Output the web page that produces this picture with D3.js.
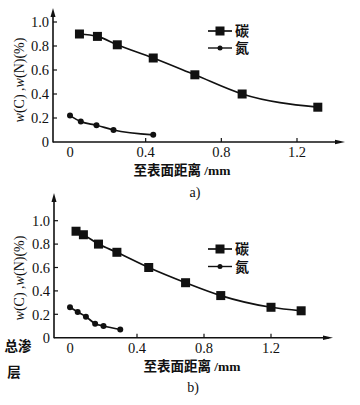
<!DOCTYPE html>
<html><head><meta charset="utf-8">
<script src="https://cdn.jsdelivr.net/npm/d3@7"></script>
<style>body{margin:0;background:#fff}svg{display:block}</style>
</head><body>
<script>
// ---- data ----
const yTicks = [0, 0.2, 0.4, 0.6, 0.8, 1.0];
const yTickLabels = ["0", "0.2", "0.4", "0.6", "0.8", "1.0"];
const xTicks = [0, 0.4, 0.8, 1.2];
const xTickLabels = ["0", "0.4", "0.8", "1.2"];
const seriesNames = ["碳", "氮"];

const carbonA_x = [0.05, 0.145, 0.25, 0.44, 0.66, 0.91, 1.31];
const carbonA_y = [0.90, 0.88, 0.81, 0.70, 0.56, 0.40, 0.29];
const nitrogenA_x = [0, 0.057, 0.14, 0.23, 0.44];
const nitrogenA_y = [0.22, 0.17, 0.14, 0.10, 0.06];

const carbonB_x = [0.036, 0.08, 0.17, 0.28, 0.47, 0.69, 0.90, 1.20, 1.38];
const carbonB_y = [0.91, 0.88, 0.80, 0.73, 0.60, 0.47, 0.36, 0.26, 0.23];
const nitrogenB_x = [0, 0.046, 0.095, 0.15, 0.20, 0.30];
const nitrogenB_y = [0.26, 0.22, 0.18, 0.12, 0.10, 0.07];

const xTitle = "至表面距离 /mm";
const panelLabels = ["a)", "b)"];

// ---- drawing ----
const W = 360, H = 405;
const svg = d3.select("body").append("svg").attr("width", W).attr("height", H);
const serif = "'Liberation Serif','DejaVu Serif',serif";
const cjk = "'Liberation Serif','Noto Sans CJK SC','Noto Sans',sans-serif";

function panel(cfg) {
  const x = d3.scaleLinear().domain([0, 1.2]).range([cfg.x0, cfg.x12]);
  const y = d3.scaleLinear().domain([0, 1]).range([cfg.y0, cfg.y1]);
  const g = svg.append("g");
  const ax = cfg.axisX;
  // axes lines
  g.append("line").attr("x1", ax).attr("x2", ax).attr("y1", cfg.y0 + 0.5).attr("y2", cfg.yTop + 4)
    .attr("stroke", "#111").attr("stroke-width", 1.6);
  g.append("line").attr("x1", ax).attr("x2", cfg.xRight - 4).attr("y1", cfg.y0).attr("y2", cfg.y0)
    .attr("stroke", "#111").attr("stroke-width", 1.6);
  // arrows
  g.append("path").attr("d", `M${ax},${cfg.yTop} L${ax - 2.5},${cfg.yTop + 9} L${ax + 2.5},${cfg.yTop + 9} Z`).attr("fill", "#111");
  g.append("path").attr("d", `M${cfg.xRight},${cfg.y0} L${cfg.xRight - 10},${cfg.y0 - 2.2} L${cfg.xRight - 10},${cfg.y0 + 2.2} Z`).attr("fill", "#111");
  // y ticks
  yTicks.forEach((t, i) => {
    if (t > 0) g.append("line").attr("x1", ax).attr("x2", ax + 4).attr("y1", y(t)).attr("y2", y(t))
      .attr("stroke", "#111").attr("stroke-width", 1.2);
    g.append("text").attr("x", ax - 4).attr("y", y(t)).attr("dy", "0.36em").attr("text-anchor", "end")
      .attr("font-family", serif).attr("font-size", 14.5).attr("fill", "#111").text(yTickLabels[i]);
  });
  xTicks.forEach((t, i) => {
    if (t > 0) g.append("line").attr("x1", x(t)).attr("x2", x(t)).attr("y1", cfg.y0).attr("y2", cfg.y0 - 4)
      .attr("stroke", "#111").attr("stroke-width", 1.2);
    g.append("text").attr("x", x(t)).attr("y", cfg.y0 + 15).attr("text-anchor", "middle")
      .attr("font-family", serif).attr("font-size", 14.5).attr("fill", "#111").text(xTickLabels[i]);
  });
  // y title
  const yt = g.append("text").attr("transform", `translate(${cfg.yLabelX},${cfg.yLabelY}) rotate(-90)`)
    .attr("text-anchor", "middle").attr("font-family", serif).attr("font-size", 14).attr("fill", "#111");
  yt.append("tspan").attr("font-style", "italic").text("w");
  yt.append("tspan").text("(C) ,");
  yt.append("tspan").attr("font-style", "italic").text("w");
  yt.append("tspan").text("(N)(%)");
  // x title
  g.append("text").attr("x", cfg.xTitleX).attr("y", cfg.xTitleY).attr("text-anchor", "middle")
    .attr("font-family", cjk).attr("font-weight", 700).attr("font-size", 13.5).attr("fill", "#111")
    .text(xTitle);
  g.append("text").attr("x", cfg.pLabelX).attr("y", cfg.pLabelY).attr("text-anchor", "middle")
    .attr("font-family", serif).attr("font-size", 14).attr("fill", "#111").text(cfg.pLabel);

  const line = d3.line().x(d => x(d[0])).y(d => y(d[1])).curve(d3.curveMonotoneX);
  const cData = cfg.cx.map((v, i) => [v, cfg.cy[i]]);
  const nData = cfg.nx.map((v, i) => [v, cfg.ny[i]]);
  g.append("path").attr("d", line(cData)).attr("fill", "none").attr("stroke", "#111").attr("stroke-width", 1.7);
  g.append("path").attr("d", line(nData)).attr("fill", "none").attr("stroke", "#111").attr("stroke-width", 1.7);
  g.selectAll(".sq").data(cData).enter().append("rect")
    .attr("x", d => x(d[0]) - 4.5).attr("y", d => y(d[1]) - 4.5).attr("width", 9).attr("height", 9).attr("fill", "#111");
  g.selectAll(".ci").data(nData).enter().append("circle")
    .attr("cx", d => x(d[0])).attr("cy", d => y(d[1])).attr("r", 3).attr("fill", "#111");

  // legend
  const lx = cfg.legX, ly = cfg.legY;
  g.append("line").attr("x1", lx - 12).attr("x2", lx + 12).attr("y1", ly).attr("y2", ly).attr("stroke", "#111").attr("stroke-width", 1.7);
  g.append("rect").attr("x", lx - 4.5).attr("y", ly - 4.5).attr("width", 9).attr("height", 9).attr("fill", "#111");
  g.append("line").attr("x1", lx - 12).attr("x2", lx + 12).attr("y1", ly + cfg.legGap).attr("y2", ly + cfg.legGap).attr("stroke", "#111").attr("stroke-width", 1.4);
  g.append("circle").attr("cx", lx).attr("cy", ly + cfg.legGap).attr("r", 2.5).attr("fill", "#111");
  seriesNames.forEach((s, i) => {
    g.append("text").attr("x", lx + 15).attr("y", ly + i * cfg.legGap).attr("dy", "0.36em")
      .attr("font-family", cjk).attr("font-weight", 700).attr("font-size", 14).attr("fill", "#111").text(s);
  });
}

panel({x0: 70, x12: 297, y0: 142, y1: 22, axisX: 53, yTop: 8, xRight: 345,
  cx: carbonA_x, cy: carbonA_y, nx: nitrogenA_x, ny: nitrogenA_y,
  yLabelX: 24, yLabelY: 80, xTitleX: 182, xTitleY: 175, pLabel: panelLabels[0], pLabelX: 195, pLabelY: 197,
  legX: 220, legY: 31, legGap: 17});
panel({x0: 70, x12: 271, y0: 337.7, y1: 220.7, axisX: 54, yTop: 193, xRight: 333,
  cx: carbonB_x, cy: carbonB_y, nx: nitrogenB_x, ny: nitrogenB_y,
  yLabelX: 24, yLabelY: 278, xTitleX: 192, xTitleY: 371, pLabel: panelLabels[1], pLabelX: 193, pLabelY: 392,
  legX: 220, legY: 249, legGap: 17.5});

// side note
svg.append("text").attr("x", 18).attr("y", 351).attr("text-anchor", "middle").attr("font-family", cjk)
  .attr("font-weight", 700).attr("font-size", 13.5).attr("fill", "#111").text("总渗");
svg.append("text").attr("x", 14).attr("y", 377).attr("text-anchor", "middle").attr("font-family", cjk)
  .attr("font-weight", 700).attr("font-size", 13.5).attr("fill", "#111").text("层");
</script>
</body></html>
